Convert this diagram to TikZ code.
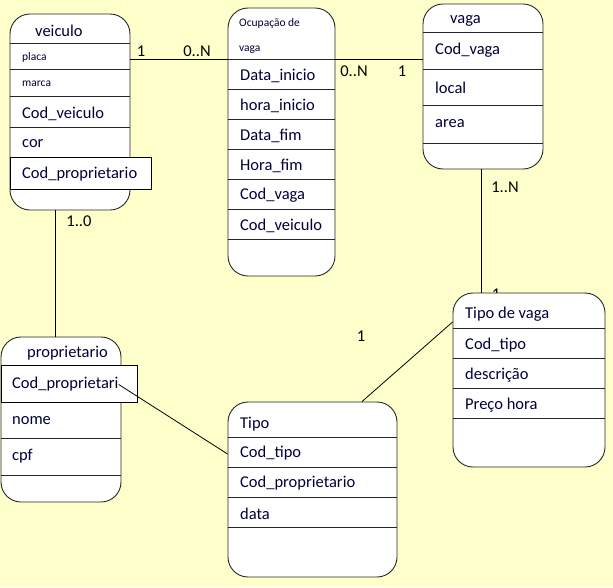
\documentclass[tikz,border=0pt]{standalone}
\usepackage{fontspec}
\setmainfont{Carlito}
\usetikzlibrary{positioning}
\definecolor{mybg}{rgb}{1.0,1.0,0.8}
\definecolor{myink}{rgb}{0.0,0.0,0.22}
\definecolor{myline}{gray}{0.15}

\tikzset{
    entity/.style={draw=myline, fill=white, line width=0.9pt, rounded corners=20pt, inner sep=0pt},
    keybox/.style={draw=black, fill=white, line width=0.9pt, inner sep=0pt, anchor=north west},
    attr/.style={anchor=west, text=myink, inner sep=0pt, yshift=-1.5pt, font=\fontsize{16.5}{18}\selectfont},
    smallattr/.style={anchor=west, text=myink, inner sep=0pt, yshift=-1pt, font=\fontsize{11.5}{13}\selectfont},
    card/.style={text=black, inner sep=0pt, yshift=-1pt, font=\fontsize{16.5}{18}\selectfont},
    rel/.style={draw=black, line width=0.8pt}
}

\begin{document}
\begin{tikzpicture}[x=1pt, y=-1pt]
    \fill[mybg] (0,0) rectangle (613,587);
    \useasboundingbox (0,0) rectangle (613,587);

    \node[card] (c6) at (496,293) {1};

    \node[entity, minimum width=120pt, minimum height=196pt] (veiculo) at (70,112) {};
    \foreach \y in {43,69,96,127,157} \draw[myline, line width=0.9pt] (10,\y) -- (130,\y);
    \node[keybox, minimum width=141pt, minimum height=32pt] (vkey) at (10,157) {};
    \node[attr] (vtitle) at (35,29) {veiculo};
    \node[smallattr] (vplaca) at (22,56) {placa};
    \node[smallattr] (vmarca) at (22,83) {marca};
    \node[attr] (vcod) at (22,112) {Cod\_veiculo};
    \node[attr] (vcor) at (22,142) {cor};
    \node[attr] (vprop) at (22,173) {Cod\_proprietario};

    \node[entity, minimum width=107pt, minimum height=268pt] (ocupacao) at (281.5,142) {};
    \foreach \y in {59,89,119,149,179,209,239} \draw[myline, line width=0.9pt] (228,\y) -- (335,\y);
    \node[smallattr] (otitle) at (239,22) {Ocupação de};
    \node[smallattr] (otitleb) at (239,49) {vaga};
    \node[attr] (odi) at (240,74) {Data\_inicio};
    \node[attr] (ohi) at (240,104) {hora\_inicio};
    \node[attr] (odf) at (240,134) {Data\_fim};
    \node[attr] (ohf) at (240,164) {Hora\_fim};
    \node[attr] (ocv) at (240,194) {Cod\_vaga};
    \node[attr] (ocve) at (240,224) {Cod\_veiculo};

    \node[entity, minimum width=120pt, minimum height=165pt] (vaga) at (483,86.5) {};
    \foreach \y in {32,69,105,143} \draw[myline, line width=0.9pt] (423,\y) -- (543,\y);
    \node[attr] (gtitle) at (450,19) {vaga};
    \node[attr] (gcod) at (435,49) {Cod\_vaga};
    \node[attr] (glocal) at (435,86) {local};
    \node[attr] (garea) at (435,122) {area};

    \node[entity, minimum width=120pt, minimum height=165pt] (proprietario) at (61,419.5) {};
    \foreach \y in {365,438,475} \draw[myline, line width=0.9pt] (1,\y) -- (121,\y);
    \node[keybox, minimum width=136pt, minimum height=37pt] (pkeybox) at (1,365) {};
    \node[attr] (ptitle) at (27,352) {proprietario};
    \node[attr] (pkey) at (12,383) {Cod\_proprietari};
    \node[attr] (pnome) at (12,419) {nome};
    \node[attr] (pcpf) at (12,455) {cpf};

    \node[entity, minimum width=169pt, minimum height=175pt] (tipo) at (312.5,489.5) {};
    \foreach \y in {437,467,497,527} \draw[myline, line width=0.9pt] (228,\y) -- (397,\y);
    \node[attr] (ttitle) at (240,423) {Tipo};
    \node[attr] (tcod) at (240,452) {Cod\_tipo};
    \node[attr] (tprop) at (240,482) {Cod\_proprietario};
    \node[attr] (tdata) at (240,512) {data};

    \node[entity, minimum width=152pt, minimum height=174pt] (tipovaga) at (529,380) {};
    \foreach \y in {328,358,388,418} \draw[myline, line width=0.9pt] (453,\y) -- (605,\y);
    \node[attr] (wtitle) at (465,313) {Tipo de vaga};
    \node[attr] (wcod) at (465,344) {Cod\_tipo};
    \node[attr] (wdesc) at (465,374) {descrição};
    \node[attr] (wpreco) at (465,404) {Preço hora};

    \coordinate (relrow) at (0,59);
    \coordinate (vpx) at (55,0);
    \coordinate (wrow) at (0,322);
    \coordinate (tx) at (362,0);
    \coordinate (trow) at (0,454);
    \coordinate (gx) at (481,0);

    \draw[rel] (veiculo.east |- relrow) -- (ocupacao.west |- relrow);
    \draw[rel] (ocupacao.east |- relrow) -- (vaga.west |- relrow);
    \draw[rel] (vaga.south -| gx) -- (tipovaga.north -| gx);
    \draw[rel] (veiculo.south -| vpx) -- (proprietario.north -| vpx);
    \draw[rel] (tipovaga.west |- wrow) -- (tipo.north -| tx);
    \draw[rel] (pkey.east) -- (tipo.west |- trow);

    \node[card] (c1) at (141,50) {1};
    \node[card] (c2) at (197,50) {0..N};
    \node[card] (c3) at (354,70) {0..N};
    \node[card] (c4) at (402,70) {1};
    \node[card] (c5) at (505,186) {1..N};
    \node[card] (c7) at (79,220) {1..0};
    \node[card] (c8) at (361,335) {1};
\end{tikzpicture}
\end{document}
